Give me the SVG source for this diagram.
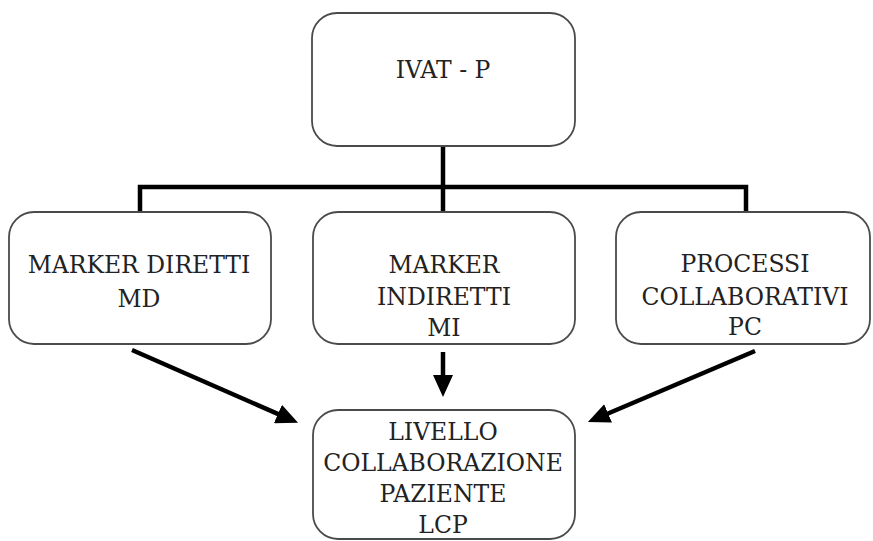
<svg xmlns="http://www.w3.org/2000/svg" width="873" height="541" viewBox="0 0 873 541">
<style>
.box{fill:#fff;stroke:#4a4a4a;stroke-width:1.8}
.t{font-family:"DejaVu Serif","Liberation Serif",serif;font-size:23.5px;fill:#222;text-anchor:middle}
.c{fill:none;stroke:#000;stroke-width:4.5}
</style>
<defs>
<marker id="ah" markerUnits="userSpaceOnUse" viewBox="0 0 22 20" markerWidth="22" markerHeight="20" refX="11" refY="10" orient="auto">
<path d="M0,0 L22,10 L0,20 Z" fill="#000"/>
</marker>
</defs>
<g id="connectors">
<path class="c" d="M443,146 V212"/>
<path class="c" d="M140,212 V187 H746 V212"/>
<path class="c" d="M132,350 L288,418.4" marker-end="url(#ah)"/>
<path class="c" d="M443,352 V386" marker-end="url(#ah)"/>
<path class="c" d="M755,351 L598,417.7" marker-end="url(#ah)"/>
</g>
<g id="ivat">
<rect class="box" x="312" y="13" width="263" height="133" rx="25"/>
<text class="t" x="443" y="78">IVAT - P</text>
</g>
<g id="md">
<rect class="box" x="9" y="212" width="262" height="132" rx="25"/>
<text class="t" x="139" y="273">MARKER DIRETTI</text>
<text class="t" x="139" y="307">MD</text>
</g>
<g id="mi">
<rect class="box" x="313" y="212" width="262" height="132" rx="25"/>
<text class="t" x="444" y="273">MARKER</text>
<text class="t" x="444" y="305">INDIRETTI</text>
<text class="t" x="444" y="336">MI</text>
</g>
<g id="pc">
<rect class="box" x="616" y="212" width="254" height="132" rx="25"/>
<text class="t" x="745" y="272">PROCESSI</text>
<text class="t" x="745" y="305">COLLABORATIVI</text>
<text class="t" x="745" y="335">PC</text>
</g>
<g id="lcp">
<rect class="box" x="313" y="410" width="262" height="129" rx="25"/>
<text class="t" x="443" y="440">LIVELLO</text>
<text class="t" x="443" y="471">COLLABORAZIONE</text>
<text class="t" x="443" y="502">PAZIENTE</text>
<text class="t" x="443" y="533">LCP</text>
</g>
</svg>
